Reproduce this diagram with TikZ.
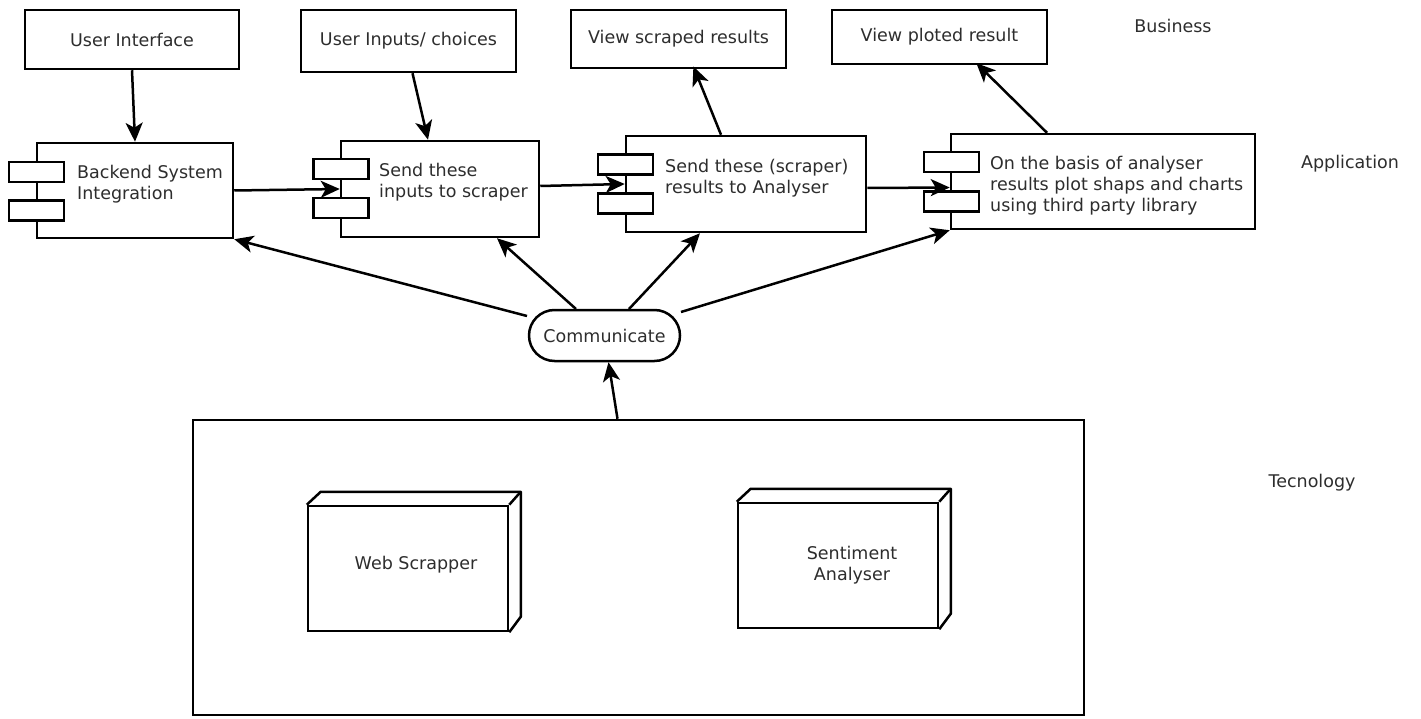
\documentclass[tikz,border=0pt]{standalone}
\usepackage{fontspec}
\setmainfont{DejaVu Sans}
\usetikzlibrary{arrows.meta,shapes.misc}
\definecolor{txt}{RGB}{45,45,45}
\tikzset{
  box/.style={draw, line width=2.5pt, inner sep=0pt, fill=white},
  plainbox/.style={box, text=txt, align=center},
  port/.style={box, minimum width=55pt, minimum height=20pt},
  lbl/.style={text=txt, align=left, inner sep=0pt, anchor=west},
  ctr/.style={text=txt, align=center, inner sep=0pt},
  layer/.style={text=txt, inner sep=0pt},
  arr/.style={line width=2.5pt, -{Stealth[length=19pt,width=17pt,inset=5pt]}},
  edge3d/.style={line width=2.5pt, line join=round}
}
\begin{document}
\begin{tikzpicture}[x=1pt, y=-1pt, font=\fontsize{17.5}{21}\selectfont]
\useasboundingbox (0,0) rectangle (1421,719);

% layer captions
\node[layer] (business) at (1173,26) {Business};
\node[layer] (application) at (1350,164) {Application};
\node[layer] (technology) at (1312,483) {Tecnology};

% business layer boxes
\node[plainbox, minimum width=214pt, minimum height=59pt] (ui)  at (132,39.5) {User Interface};
\node[plainbox, minimum width=215pt, minimum height=62pt] (uin) at (408.5,41) {User Inputs/ choices};
\node[plainbox, minimum width=215pt, minimum height=58pt] (vsr) at (678.5,39) {View scraped results};
\node[plainbox, minimum width=215pt, minimum height=54pt] (vpr) at (939.5,37) {View ploted result};

% application components
\node[box, minimum width=196pt, minimum height=95pt] (a) at (135,190.5) {};
\node[port] (a1) at (36.5,172) {};
\node[port] (a2) at (36.5,210.5) {};
\node[lbl] (at) at (77,184) {Backend System\\Integration};

\node[box, minimum width=198pt, minimum height=96pt] (b) at (440,189) {};
\node[port] (b1) at (341,169) {};
\node[port] (b2) at (341,208) {};
\node[lbl] (bt) at (379,182) {Send these\\inputs to scraper};

\node[box, minimum width=240pt, minimum height=96pt] (c) at (746,184) {};
\node[port] (c1) at (625.5,164.5) {};
\node[port] (c2) at (625.5,203.5) {};
\node[lbl] (ct) at (665,178) {Send these (scraper)\\results to Analyser};

\node[box, minimum width=304pt, minimum height=95pt] (d) at (1103,181.5) {};
\node[port] (d1) at (951.5,162) {};
\node[port] (d2) at (951.5,201.5) {};
\node[lbl] (dt) at (990,186) {On the basis of analyser\\results plot shaps and charts\\using third party library};

% communication hub
\node[draw, line width=2.5pt, rounded rectangle, minimum width=151pt, minimum height=51pt,
      inner sep=0pt, text=txt] (comm) at (604.5,335.5) {Communicate};

% technology layer
\node[box, fill=none, minimum width=891pt, minimum height=295pt] (tech) at (638.5,567.5) {};

\node[box, minimum width=200pt, minimum height=125pt] (ws) at (408,568.5) {};
\draw[edge3d] (ws.north west) -- ++(14,-13) -- ++(200,0) coordinate (wsc) -- ++(0,125) -- (ws.south east);
\draw[edge3d] (wsc) -- (ws.north east);
\node[ctr] (wst) at (416,565) {Web Scrapper};

\node[box, minimum width=200pt, minimum height=125pt] (sa) at (838,565.5) {};
\draw[edge3d] (sa.north west) -- ++(14,-13) -- ++(200,0) coordinate (sac) -- ++(0,125) -- (sa.south east);
\draw[edge3d] (sac) -- (sa.north east);
\node[ctr] (sat) at (852,565) {Sentiment\\Analyser};

% business <-> application
\draw[arr] (ui.south) -- (a.north);
\draw[arr] ([xshift=4pt]uin.south) -- ([xshift=-12pt]b.north);
\draw[arr, shorten >=-3pt] ([xshift=-25pt]c.north) -- ([xshift=16pt]vsr.south);
\draw[arr, shorten >=-3pt] ([xshift=-56pt]d.north) -- ([xshift=39pt]vpr.south);

% application flow
\draw[arr] (a.east) -- (b.west);
\draw[arr] ([yshift=3pt]b.east) -- (c.west);
\draw[arr] ([yshift=-4pt]c.east) -- ([yshift=-6pt]d.west);

% communication links
\draw[arr] ([shift={(-77.5,-19.5)}]comm.center) -- (a.south east);
\draw[arr] ([shift={(-28.5,-26.5)}]comm.center) -- ([xshift=57pt]b.south);
\draw[arr] ([shift={(24.5,-26.5)}]comm.center) -- ([xshift=-46pt]c.south);
\draw[arr] ([shift={(76.5,-23.5)}]comm.center) -- (d.south west);
\draw[arr] ([xshift=-21pt]tech.north) -- ([xshift=4pt]comm.south);
\end{tikzpicture}
\end{document}
